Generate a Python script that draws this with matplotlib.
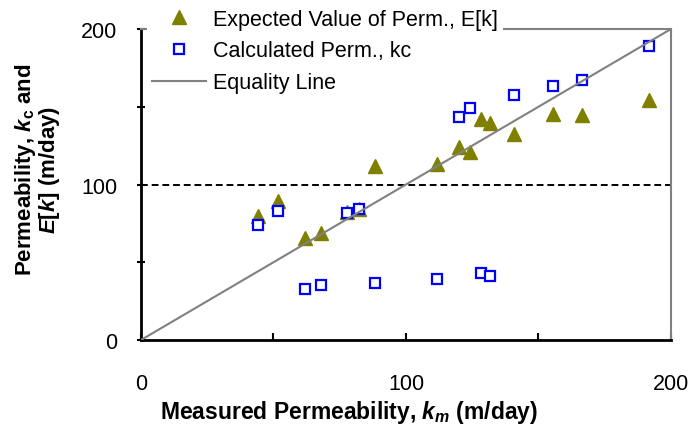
import numpy as np
import matplotlib
matplotlib.use("Agg")
import matplotlib.pyplot as plt
from matplotlib.ticker import MultipleLocator

plt.rcParams['font.family'] = ['Liberation Sans', 'DejaVu Sans']
plt.rcParams['mathtext.fontset'] = 'custom'
plt.rcParams['mathtext.it'] = 'Liberation Sans:bold:italic'
plt.rcParams['mathtext.rm'] = 'Liberation Sans:bold'
plt.rcParams['mathtext.bf'] = 'Liberation Sans:bold'

# measured permeability k_m (m/day)
k_meas = [44.2, 51.6, 62.0, 67.8, 77.6, 82.4, 88.3, 111.6, 120.0, 124.0,
          128.5, 131.8, 140.9, 155.6, 166.3, 191.8]
# expected value of permeability E[k]
k_expected = [79.5, 89.6, 65.8, 68.8, 82.0, 84.0, 111.7, 113.2, 124.3, 120.7,
              142.1, 139.5, 132.3, 145.3, 144.7, 154.3]
# calculated permeability kc
k_calc = [74.1, 82.8, 32.8, 35.4, 81.7, 84.2, 36.7, 39.2, 143.6, 148.9,
          43.1, 41.0, 157.7, 163.1, 167.4, 189.3]
equality = [0, 200]
ref_level = 100

fig = plt.figure(figsize=(6.91, 4.27), dpi=100)
ax = fig.add_axes([0.204, 0.2014, 0.767, 0.7283])

ax.axhline(ref_level, color='black', ls='--', lw=1.4, dashes=(3.5, 2), zorder=1)
ax.plot(k_meas, k_expected, ls='none', marker='^', ms=9.5, color='#808000',
        mec='#808000', label='Expected Value of Perm., E[k]', zorder=3)
ax.plot(k_meas, k_calc, ls='none', marker='s', ms=7, mfc='white',
        mec='#0000FF', mew=1.6, label='Calculated Perm., kc', zorder=4)
ax.plot(equality, equality, color='#808080', lw=1.5,
        label='Equality Line', zorder=5)

ax.set_xlim(0, 200)
ax.set_ylim(0, 200)
ax.xaxis.set_major_locator(MultipleLocator(100))
ax.xaxis.set_minor_locator(MultipleLocator(50))
ax.yaxis.set_major_locator(MultipleLocator(100))
ax.yaxis.set_minor_locator(MultipleLocator(50))
ax.tick_params(axis='x', which='both', direction='in', length=5, width=1.5,
               pad=24, labelsize=15.5)
ax.tick_params(axis='y', which='both', direction='inout', length=6, width=1.5,
               pad=14, labelsize=15.5)
for s in ['left', 'bottom']:
    ax.spines[s].set_linewidth(2)
    ax.spines[s].set_color('black')
for s in ['top', 'right']:
    ax.spines[s].set_linewidth(1.5)
    ax.spines[s].set_color('#808080')

ax.set_xlabel('Measured Permeability, $k_m$ (m/day)', fontsize=16.5,
              fontweight='bold')
ax.xaxis.set_label_coords(0.392, -0.188)
ax.set_ylabel('Permeability, $k_{\\mathrm{c}}$ and\n$\\mathit{E[k]}$ (m/day)',
              fontsize=16, fontweight='bold', linespacing=0.95)
ax.yaxis.set_label_coords(-0.149, 0.55)

leg = ax.legend(loc='upper left', bbox_to_anchor=(147 / 691, 0.99),
                bbox_transform=fig.transFigure, fontsize=15.5,
                frameon=True, fancybox=False, edgecolor='none',
                facecolor='white', framealpha=1, borderpad=0.25,
                borderaxespad=0, handlelength=2.5, handletextpad=0.3,
                labelspacing=0.5)
leg.set_zorder(10)

fig.savefig('out.png', dpi=100)
